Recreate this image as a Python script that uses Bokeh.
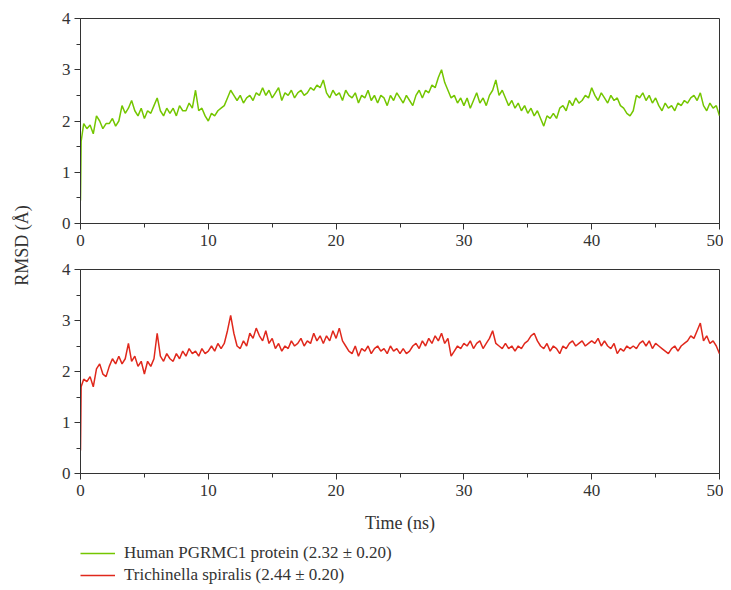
import numpy as np
from math import pi
from bokeh.plotting import figure
from bokeh.layouts import row, column
from bokeh.models import Label, Legend, LegendItem, Range1d, ColumnDataSource
from bokeh.embed import file_html
from bokeh.resources import INLINE

# ---------------- data ----------------
# sampling: start-up points, then every 0.25 ns up to 50 ns
time_start = [0.0, 0.05]
time_grid = list(np.round(np.arange(0.25, 50.001, 0.25), 2))
time_ns = time_start + time_grid

human_start = [0.45, 1.6]
human_rmsd = [
    1.95, 1.85, 1.92, 1.75,   # 0-1 ns
    2.10, 2.00, 1.85, 1.95,
    1.95, 2.05, 1.90, 2.00,
    2.30, 2.15, 2.25, 2.40,
    2.20, 2.10, 2.25, 2.05,
    2.20, 2.15, 2.30, 2.45,
    2.20, 2.10, 2.25, 2.15,
    2.25, 2.10, 2.30, 2.20,
    2.20, 2.35, 2.25, 2.60,
    2.20, 2.25, 2.10, 2.00,   # 9-10
    2.15, 2.10, 2.20, 2.25,
    2.30, 2.45, 2.60, 2.50,
    2.40, 2.50, 2.35, 2.45,
    2.50, 2.40, 2.55, 2.50,
    2.65, 2.50, 2.60, 2.45,
    2.55, 2.65, 2.40, 2.55,
    2.50, 2.60, 2.45, 2.55,
    2.60, 2.50, 2.55, 2.65,
    2.60, 2.70, 2.65, 2.80,
    2.55, 2.45, 2.60, 2.50,   # 19-20
    2.55, 2.40, 2.60, 2.50,
    2.45, 2.55, 2.35, 2.50,
    2.45, 2.60, 2.40, 2.50,
    2.35, 2.50, 2.45, 2.30,
    2.50, 2.40, 2.55, 2.45,
    2.35, 2.50, 2.40, 2.30,
    2.50, 2.60, 2.45, 2.60,
    2.55, 2.70, 2.65, 2.85,
    3.00, 2.75, 2.60, 2.45,
    2.50, 2.35, 2.45, 2.30,   # 29-30
    2.45, 2.25, 2.40, 2.55,
    2.35, 2.45, 2.30, 2.50,
    2.60, 2.80, 2.50, 2.60,
    2.45, 2.30, 2.40, 2.25,
    2.35, 2.20, 2.30, 2.15,
    2.25, 2.10, 2.20, 2.05,
    1.90, 2.10, 2.05, 2.15,
    2.05, 2.25, 2.30, 2.20,
    2.40, 2.30, 2.45, 2.35,
    2.40, 2.50, 2.45, 2.65,   # 39-40
    2.50, 2.40, 2.55, 2.45,
    2.35, 2.50, 2.40, 2.45,
    2.30, 2.25, 2.15, 2.10,
    2.20, 2.50, 2.45, 2.55,
    2.40, 2.50, 2.35, 2.45,
    2.30, 2.20, 2.35, 2.25,
    2.30, 2.20, 2.35, 2.30,
    2.40, 2.35, 2.45, 2.50,
    2.40, 2.55, 2.30, 2.20,
    2.35, 2.25, 2.30, 2.10,   # 49-50
]

trich_start = [0.45, 1.7]
trich_rmsd = [
    1.85, 1.80, 1.90, 1.70,   # 0-1 ns
    2.05, 2.15, 1.95, 1.90,
    2.10, 2.25, 2.15, 2.30,
    2.15, 2.25, 2.55, 2.20,
    2.30, 2.10, 2.20, 1.95,
    2.20, 2.10, 2.25, 2.75,
    2.30, 2.20, 2.35, 2.25,
    2.20, 2.35, 2.25, 2.40,
    2.30, 2.45, 2.35, 2.40,
    2.30, 2.45, 2.35, 2.40,   # 9-10
    2.50, 2.40, 2.55, 2.45,
    2.55, 2.80, 3.10, 2.75,
    2.50, 2.45, 2.60, 2.50,
    2.75, 2.65, 2.85, 2.70,
    2.60, 2.80, 2.55, 2.65,
    2.45, 2.55, 2.40, 2.50,
    2.45, 2.60, 2.50, 2.55,
    2.65, 2.50, 2.60, 2.55,
    2.75, 2.60, 2.70, 2.55,
    2.70, 2.60, 2.80, 2.65,   # 19-20
    2.85, 2.60, 2.50, 2.40,
    2.35, 2.50, 2.30, 2.45,
    2.40, 2.50, 2.35, 2.45,
    2.50, 2.40, 2.45, 2.35,
    2.50, 2.40, 2.45, 2.35,
    2.45, 2.35, 2.40, 2.50,
    2.55, 2.45, 2.60, 2.50,
    2.65, 2.55, 2.70, 2.60,
    2.75, 2.55, 2.65, 2.30,
    2.40, 2.50, 2.45, 2.55,   # 29-30
    2.50, 2.60, 2.45, 2.55,
    2.60, 2.45, 2.55, 2.65,
    2.80, 2.55, 2.50, 2.45,
    2.55, 2.45, 2.50, 2.40,
    2.50, 2.45, 2.55, 2.60,
    2.70, 2.75, 2.60, 2.50,
    2.45, 2.55, 2.40, 2.50,
    2.45, 2.35, 2.50, 2.45,
    2.55, 2.60, 2.50, 2.55,
    2.60, 2.50, 2.55, 2.60,   # 39-40
    2.55, 2.65, 2.50, 2.60,
    2.50, 2.45, 2.55, 2.35,
    2.45, 2.40, 2.50, 2.45,
    2.50, 2.45, 2.55, 2.60,
    2.50, 2.60, 2.45, 2.55,
    2.50, 2.45, 2.40, 2.35,
    2.45, 2.50, 2.40, 2.50,
    2.55, 2.60, 2.70, 2.65,
    2.80, 2.95, 2.60, 2.70,
    2.55, 2.60, 2.50, 2.35,   # 49-50
]

series_labels = ["Human PGRMC1 protein (2.32 \u00b1 0.20)",
                 "Trichinella spiralis (2.44 \u00b1 0.20)"]
y_axis_label = "RMSD (\u00c5)"
x_axis_label = "Time (ns)"
x_ticks = [0, 10, 20, 30, 40, 50]
y_ticks = [0, 1, 2, 3, 4]

GREEN = "#74c600"
RED = "#e0281c"
AXIS = "#333333"
FONT = "Liberation Serif"

# ---------------- figures ----------------
def make_panel(height, top, bottom):
    p = figure(width=675, height=height, output_backend="svg", toolbar_location=None,
               x_range=Range1d(0, 50), y_range=Range1d(0, 4),
               min_border_left=32, min_border_right=4,
               min_border_top=top, min_border_bottom=bottom)
    p.grid.visible = False
    p.outline_line_color = AXIS
    p.outline_line_width = 1
    p.background_fill_color = "white"
    p.border_fill_color = "white"
    for ax in (p.xaxis, p.yaxis):
        ax.axis_line_color = AXIS
        ax.major_tick_line_color = AXIS
        ax.minor_tick_line_color = AXIS
        ax.major_tick_in = 0
        ax.major_tick_out = 6
        ax.minor_tick_in = 0
        ax.minor_tick_out = 4
        ax.major_label_text_font = FONT
        ax.major_label_text_font_size = "17px"
        ax.major_label_text_color = AXIS
    p.xaxis.major_label_standoff = 5
    p.yaxis.major_label_standoff = 4
    p.xaxis.ticker = x_ticks
    p.xaxis.ticker.minor_ticks = [5, 15, 25, 35, 45]
    p.yaxis.ticker = y_ticks
    p.yaxis.ticker.minor_ticks = [0.5, 1.5, 2.5, 3.5]
    return p

p1 = make_panel(258, 18, 35)
p2 = make_panel(277, 11, 61)

src1 = ColumnDataSource(dict(t=time_ns, y=human_start + human_rmsd))
src2 = ColumnDataSource(dict(t=time_ns, y=trich_start + trich_rmsd))
p1.line("t", "y", source=src1, color=GREEN, line_width=1.5)
p2.line("t", "y", source=src2, color=RED, line_width=1.5)

p2.xaxis.axis_label = x_axis_label
p2.xaxis.axis_label_text_font = FONT
p2.xaxis.axis_label_text_font_style = "normal"
p2.xaxis.axis_label_text_font_size = "18px"
p2.xaxis.axis_label_text_color = AXIS
p2.xaxis.axis_label_standoff = 14

# legend figure: the series are re-used only as legend carriers, outside its visible range
p3 = figure(width=675, height=50, output_backend="svg", toolbar_location=None,
            x_range=Range1d(0, 50), y_range=Range1d(10, 11),
            min_border_left=32, min_border_right=4, min_border_top=8, min_border_bottom=0,
            x_axis_location=None, y_axis_location=None)
p3.grid.visible = False
p3.outline_line_color = None
p3.background_fill_color = "white"
p3.border_fill_color = "white"
g_proxy = p3.line("t", "y", source=src1, color=GREEN, line_width=1.5)
r_proxy = p3.line("t", "y", source=src2, color=RED, line_width=1.5)
legend = Legend(items=[LegendItem(label=series_labels[0], renderers=[g_proxy]),
                       LegendItem(label=series_labels[1], renderers=[r_proxy])],
                location="top_left", orientation="vertical",
                glyph_width=35, glyph_height=20, label_standoff=9, spacing=2,
                padding=0, margin=0, border_line_color=None, background_fill_alpha=0,
                label_text_font=FONT, label_text_font_size="17px", label_text_color=AXIS)
p3.add_layout(legend, "center")

# y label column
lab = figure(width=48, height=585, output_backend="svg", toolbar_location=None,
             x_range=Range1d(0, 1), y_range=Range1d(0, 1),
             min_border=0, x_axis_location=None, y_axis_location=None)
lab.grid.visible = False
lab.outline_line_color = None
lab.add_layout(Label(x=0.458, y=0.581, text=y_axis_label, angle=pi / 2,
                     text_align="center", text_baseline="middle",
                     text_font=FONT, text_font_size="18px", text_color=AXIS))

layout = row(lab, column(p1, p2, p3, spacing=0), spacing=0)

open("out.html", "w").write(file_html(layout, INLINE))
